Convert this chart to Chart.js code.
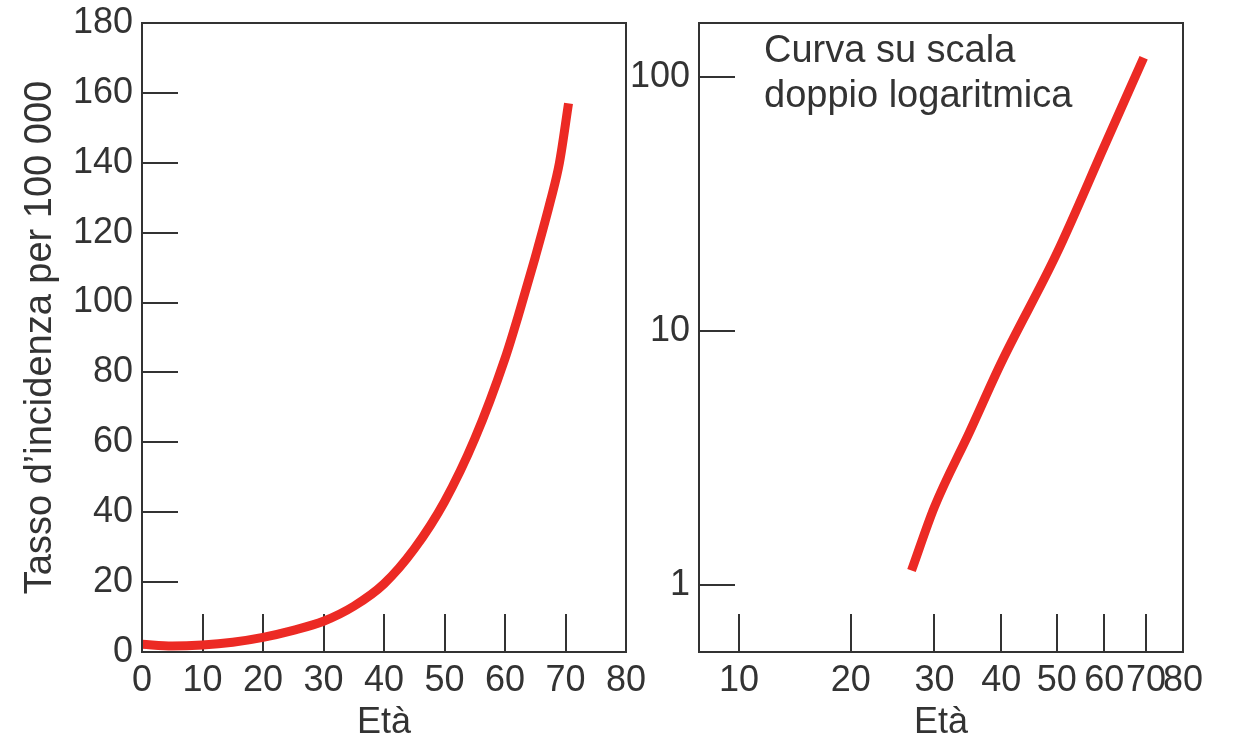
<!DOCTYPE html>
<html>
<head>
<meta charset="utf-8">
<script src="https://cdn.jsdelivr.net/npm/chart.js@4/dist/chart.umd.min.js"></script>
<style>
  html, body { margin: 0; padding: 0; background: #fff; }
  #wrap { position: relative; width: 1241px; height: 745px; overflow: hidden; }
  canvas { position: absolute; top: 0; }
  #left-chart { left: 0; }
  #right-chart { left: 590px; }
</style>
</head>
<body>
<div id="wrap">
  <canvas id="left-chart" width="660" height="745"></canvas>
  <canvas id="right-chart" width="651" height="745"></canvas>
</div>
<script>
// left panel: linear scales
const linAges  = [0, 5, 10, 15, 20, 25, 30, 35, 40, 45, 50, 55, 60, 62.5, 65, 67.5, 69, 70.5];
const linRates = [2.2, 1.7, 2.0, 2.8, 4.2, 6.2, 8.8, 13.1, 19.5, 29.5, 43, 61, 84, 98, 113, 129, 140, 157];
const linXTicks = [0, 10, 20, 30, 40, 50, 60, 70, 80];
const linYTicks = [0, 20, 40, 60, 80, 100, 120, 140, 160, 180];

// right panel: double log scales
const logAges  = [27, 30, 35, 40, 50, 60, 69.4];
const logRates = [1.14, 2.03, 4.0, 7.5, 20.2, 53.4, 119];
const logXTicks = [10, 20, 30, 40, 50, 60, 70, 80];
const logYTicks = [1, 10, 100];

const noteLines = ['Curva su scala', 'doppio logaritmica'];

const red = '#ec2a24';
const ink = '#333333';
const FONT_FAMILY = '"Liberation Sans", Arial, sans-serif';
const tickFont = { family: FONT_FAMILY, size: 36 };
const titleFont = { family: FONT_FAMILY, size: 38 };

// the printed log-log panel spaces its age axis as log(age + 15)
const AGE_SHIFT = 15;
class OffsetLogScale extends Chart.LogarithmicScale {
  configure() {
    super.configure();
    this._startValue = Math.log10(this.min + AGE_SHIFT);
    this._valueRange = Math.log10(this.max + AGE_SHIFT) - this._startValue;
  }
  getPixelForValue(value) {
    if (value === undefined || value === null || isNaN(value)) return NaN;
    return this.getPixelForDecimal((Math.log10(value + AGE_SHIFT) - this._startValue) / this._valueRange);
  }
  getValueForPixel(pixel) {
    return Math.pow(10, this._startValue + this.getDecimalForPixel(pixel) * this._valueRange) - AGE_SHIFT;
  }
}
OffsetLogScale.id = 'offsetLog';
OffsetLogScale.defaults = {};
Chart.register(OffsetLogScale);

const framePlugin = {
  id: 'frame',
  afterDraw(chart) {
    const a = chart.chartArea, ctx = chart.ctx;
    ctx.save();
    ctx.strokeStyle = ink;
    ctx.lineWidth = 2;
    ctx.strokeRect(a.left, a.top, a.right - a.left, a.bottom - a.top);
    ctx.restore();
  }
};

const notePlugin = {
  id: 'note',
  afterDraw(chart) {
    const a = chart.chartArea, ctx = chart.ctx;
    ctx.save();
    ctx.fillStyle = ink;
    ctx.font = '38px ' + FONT_FAMILY;
    ctx.textBaseline = 'alphabetic';
    noteLines.forEach((t, i) => ctx.fillText(t, a.left + 65, a.top + 39 + i * 45));
    ctx.restore();
  }
};

function pts(xs, ys) {
  return xs.map((x, i) => ({ x: x, y: ys[i] }));
}

function xAxis(type, min, max, tickVals) {
  return {
    type: type,
    min: min,
    max: max,
    afterBuildTicks: s => { s.ticks = tickVals.map(v => ({ value: v })); },
    afterFit: s => { s.height = 93; s.paddingLeft = 0; s.paddingRight = 0; },
    border: { display: false },
    grid: { drawOnChartArea: false, tickLength: -38, color: ink, lineWidth: 2 },
    ticks: { font: tickFont, color: ink, autoSkip: false, maxRotation: 0, padding: 45, callback: v => String(v) },
    title: { display: true, text: 'Età', font: tickFont, color: ink, padding: 0 }
  };
}

function yAxis(type, min, max, tickVals, width, title) {
  return {
    type: type,
    min: min,
    max: max,
    afterBuildTicks: s => { s.ticks = tickVals.map(v => ({ value: v })); },
    afterFit: s => { s.width = width; s.paddingTop = 0; s.paddingBottom = 0; },
    border: { display: false },
    grid: { drawOnChartArea: false, tickLength: -36, color: ink, lineWidth: 2 },
    ticks: { font: tickFont, color: ink, autoSkip: false, padding: 45, callback: v => String(v) },
    title: title
      ? { display: true, text: title, font: titleFont, color: ink, padding: { top: 18, bottom: 0 } }
      : { display: false }
  };
}

function lineDataset(data) {
  return {
    data: data,
    borderColor: red,
    borderWidth: 9,
    pointRadius: 0,
    fill: false,
    cubicInterpolationMode: 'monotone'
  };
}

const baseOpts = {
  responsive: false,
  animation: false,
  events: [],
  plugins: { legend: { display: false }, tooltip: { enabled: false } }
};

new Chart(document.getElementById('left-chart'), {
  type: 'line',
  data: { datasets: [lineDataset(pts(linAges, linRates))] },
  options: Object.assign({}, baseOpts, {
    layout: { padding: { left: 0, right: 34, top: 23, bottom: 0 } },
    scales: {
      x: xAxis('linear', 0, 80, linXTicks),
      y: yAxis('linear', 0, 180, linYTicks, 142, 'Tasso d’incidenza per 100 000')
    }
  }),
  plugins: [framePlugin]
});

new Chart(document.getElementById('right-chart'), {
  type: 'line',
  data: { datasets: [lineDataset(pts(logAges, logRates))] },
  options: Object.assign({}, baseOpts, {
    layout: { padding: { left: 0, right: 58, top: 23, bottom: 0 } },
    scales: {
      x: xAxis('offsetLog', 7.17, 80, logXTicks),
      y: yAxis('logarithmic', 0.545, 163, logYTicks, 109, null)
    }
  }),
  plugins: [framePlugin, notePlugin]
});
</script>
</body>
</html>
